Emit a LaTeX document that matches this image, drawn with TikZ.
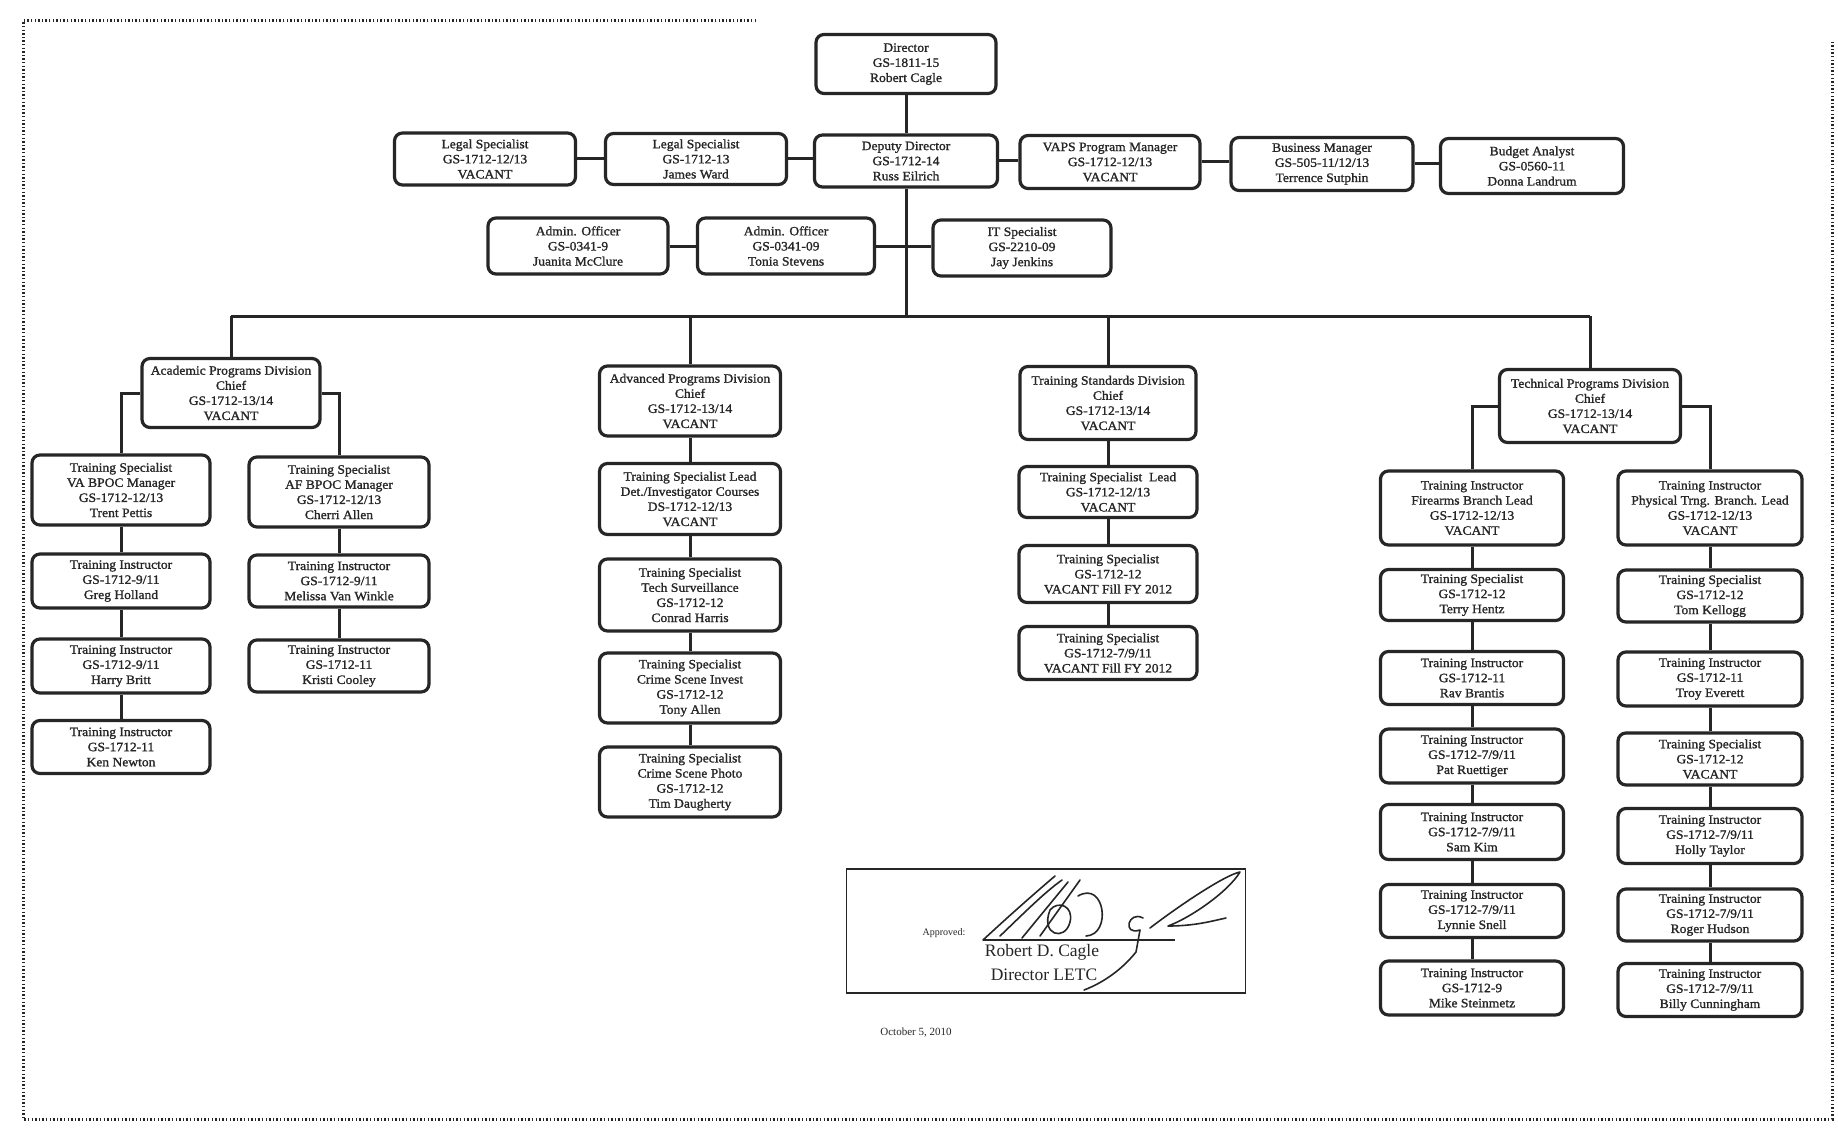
\documentclass[tikz,border=0pt]{standalone}
\usepackage{fontspec}
\setmainfont{Liberation Serif}
\newfontfamily\orgfam{Liberation Serif}[FakeBold=1.3,FakeStretch=1.06]
\newcommand{\orgfont}{\orgfam\fontsize{12.8}{15.1}\selectfont}
\definecolor{ink}{HTML}{262626}
\begin{document}
\begin{tikzpicture}[x=1pt,y=-1pt,
  box/.style={draw=ink, text=ink, line width=3.2pt, rounded corners=8pt, fill=white, align=center, font=\orgfont, inner sep=1pt},
  wA/.style={minimum width=178pt},
  conn/.style={draw=ink, line width=3pt},
  border/.style={draw=ink, line width=3pt, dash pattern=on 1.4pt off 2.2pt},
  sig/.style={draw=ink, line width=1.6pt, line cap=round, line join=round},
  plain/.style={text=ink, inner sep=0pt}]
\useasboundingbox (0,0) rectangle (1838,1134);
\fill[white] (0,0) rectangle (1838,1134);
% border
\draw[border] (756,21) -- (23,21) -- (23,1119) -- (1832,1119) -- (1832,40);

% top level
\node[box, minimum width=180pt, minimum height=59pt] (dir) at (906,64) {Director\\GS-1811-15\\Robert Cagle};
\node[box, minimum width=183pt, minimum height=52pt] (dep) at (906,161) {Deputy Director\\GS-1712-14\\Russ Eilrich};
\node[box, minimum width=181pt, minimum height=52pt] (leg1) at (485,159) {Legal Specialist\\GS-1712-12/13\\VACANT};
\node[box, minimum width=181pt, minimum height=51pt] (leg2) at (696,159) {Legal Specialist\\GS-1712-13\\James Ward};
\node[box, minimum width=180pt, minimum height=53pt] (vaps) at (1110,162) {VAPS Program Manager\\GS-1712-12/13\\VACANT};
\node[box, minimum width=182pt, minimum height=53pt] (busm) at (1322,164) {Business Manager\\GS-505-11/12/13\\Terrence Sutphin};
\node[box, minimum width=183pt, minimum height=55pt] (bud) at (1532,166) {Budget Analyst\\GS-0560-11\\Donna Landrum};
\node[box, minimum width=180pt, minimum height=56pt] (adm1) at (578,246) {Admin. Officer\\GS-0341-9\\Juanita McClure};
\node[box, minimum width=177pt, minimum height=56pt] (adm2) at (786,246) {Admin. Officer\\GS-0341-09\\Tonia Stevens};
\node[box, minimum width=178pt, minimum height=56pt] (it) at (1022,248) {IT Specialist\\GS-2210-09\\Jay Jenkins};

% division chiefs
\node[box, minimum width=178pt, minimum height=69pt] (aca) at (231,393) {Academic Programs Division\\Chief\\GS-1712-13/14\\VACANT};
\node[box, minimum width=181pt, minimum height=70pt] (adv) at (690,401) {Advanced Programs Division\\Chief\\GS-1712-13/14\\VACANT};
\node[box, minimum width=176pt, minimum height=73pt] (std) at (1108,403) {Training Standards Division\\Chief\\GS-1712-13/14\\VACANT};
\node[box, minimum width=181pt, minimum height=73pt] (tec) at (1590,406) {Technical Programs Division\\Chief\\GS-1712-13/14\\VACANT};

% academic
\node[box, wA, minimum height=70pt] (va) at (121,490) {Training Specialist\\VA BPOC Manager\\GS-1712-12/13\\Trent Pettis};
\node[box, wA, minimum height=54pt] (gh) at (121,581) {Training Instructor\\GS-1712-9/11\\Greg Holland};
\node[box, wA, minimum height=54pt] (hb) at (121,666) {Training Instructor\\GS-1712-9/11\\Harry Britt};
\node[box, wA, minimum height=53pt] (kn) at (121,747) {Training Instructor\\GS-1712-11\\Ken Newton};
\node[box, minimum width=180pt, minimum height=70pt] (af) at (339,492) {Training Specialist\\AF BPOC Manager\\GS-1712-12/13\\Cherri Allen};
\node[box, minimum width=180pt, minimum height=52pt] (mv) at (339,581) {Training Instructor\\GS-1712-9/11\\Melissa Van Winkle};
\node[box, minimum width=180pt, minimum height=52pt] (kc) at (339,666) {Training Instructor\\GS-1712-11\\Kristi Cooley};

% advanced
\node[box, minimum width=181pt, minimum height=71pt] (det) at (690,499) {Training Specialist Lead\\Det./Investigator Courses\\DS-1712-12/13\\VACANT};
\node[box, minimum width=181pt, minimum height=72pt] (tsv) at (690,595) {Training Specialist\\Tech Surveillance\\GS-1712-12\\Conrad Harris};
\node[box, minimum width=181pt, minimum height=70pt] (csi) at (690,688) {Training Specialist\\Crime Scene Invest\\GS-1712-12\\Tony Allen};
\node[box, minimum width=181pt, minimum height=70pt] (csp) at (690,782) {Training Specialist\\Crime Scene Photo\\GS-1712-12\\Tim Daugherty};

% standards
\node[box, wA, minimum height=51pt] (stl) at (1108,492) {Training Specialist \ Lead\\GS-1712-12/13\\VACANT};
\node[box, wA, minimum height=57pt] (sts1) at (1108,574) {Training Specialist\\GS-1712-12\\VACANT Fill FY 2012};
\node[box, wA, minimum height=53pt] (sts2) at (1108,653) {Training Specialist\\GS-1712-7/9/11\\VACANT Fill FY 2012};

% technical left
\node[box, minimum width=183pt, minimum height=74pt] (fa) at (1472,508) {Training Instructor\\Firearms Branch Lead\\GS-1712-12/13\\VACANT};
\node[box, minimum width=183pt, minimum height=51pt] (th) at (1472,595) {Training Specialist\\GS-1712-12\\Terry Hentz};
\node[box, minimum width=183pt, minimum height=53pt] (rb) at (1472,678) {Training Instructor\\GS-1712-11\\Rav Brantis};
\node[box, minimum width=183pt, minimum height=54pt] (pr) at (1472,756) {Training Instructor\\GS-1712-7/9/11\\Pat Ruettiger};
\node[box, minimum width=183pt, minimum height=55pt] (sk) at (1472,832) {Training Instructor\\GS-1712-7/9/11\\Sam Kim};
\node[box, minimum width=183pt, minimum height=53pt] (ls) at (1472,911) {Training Instructor\\GS-1712-7/9/11\\Lynnie Snell};
\node[box, minimum width=183pt, minimum height=54pt] (ms) at (1472,988) {Training Instructor\\GS-1712-9\\Mike Steinmetz};
% technical right
\node[box, minimum width=184pt, minimum height=74pt] (pt) at (1710,508) {Training Instructor\\Physical Trng. Branch. Lead\\GS-1712-12/13\\VACANT};
\node[box, minimum width=184pt, minimum height=52pt] (tk) at (1710,596) {Training Specialist\\GS-1712-12\\Tom Kellogg};
\node[box, minimum width=184pt, minimum height=54pt] (te) at (1710,679) {Training Instructor\\GS-1712-11\\Troy Everett};
\node[box, minimum width=184pt, minimum height=52pt] (tsp) at (1710,759) {Training Specialist\\GS-1712-12\\VACANT};
\node[box, minimum width=184pt, minimum height=55pt] (ht) at (1710,836) {Training Instructor\\GS-1712-7/9/11\\Holly Taylor};
\node[box, minimum width=184pt, minimum height=52pt] (rh) at (1710,915) {Training Instructor\\GS-1712-7/9/11\\Roger Hudson};
\node[box, minimum width=184pt, minimum height=53pt] (bc) at (1710,990) {Training Instructor\\GS-1712-7/9/11\\Billy Cunningham};

% connectors top
\draw[conn] (dir.south) -- (dep.north);
\draw[conn] (leg1.east) -- (leg1.east -| leg2.west);
\draw[conn] (leg2.east) -- (leg2.east -| dep.west);
\draw[conn] (dep.east) -- (dep.east -| vaps.west);
\draw[conn] (vaps.east) -- (vaps.east -| busm.west);
\draw[conn] (busm.east) -- (busm.east -| bud.west);
\coordinate (busL) at (231,316);
\coordinate (busR) at (1590,316);
\draw[conn] (dep.south) -- (dep.south |- busL);
\draw[conn] (adm1.east) -- (adm2.west);
\draw[conn] (adm2.east) -- (adm2.east -| it.west);
\draw[conn] (busL) -- (busR);
\draw[conn] (busL) -- (aca.north);
\draw[conn] (adv.north |- busL) -- (adv.north);
\draw[conn] (std.north |- busL) -- (std.north);
\draw[conn] (busR) -- (tec.north);
% academic
\draw[conn] (aca.west) -| (va.north);
\draw[conn] (aca.east) -| (af.north);
\draw[conn] (va.south) -- (gh.north);
\draw[conn] (gh.south) -- (hb.north);
\draw[conn] (hb.south) -- (kn.north);
\draw[conn] (af.south) -- (mv.north);
\draw[conn] (mv.south) -- (kc.north);
% advanced
\draw[conn] (adv.south) -- (det.north);
\draw[conn] (det.south) -- (tsv.north);
\draw[conn] (tsv.south) -- (csi.north);
\draw[conn] (csi.south) -- (csp.north);
% standards
\draw[conn] (std.south) -- (stl.north);
\draw[conn] (stl.south) -- (sts1.north);
\draw[conn] (sts1.south) -- (sts2.north);
% technical
\draw[conn] (tec.west) -| (fa.north);
\draw[conn] (tec.east) -| (pt.north);
\draw[conn] (fa.south) -- (th.north);
\draw[conn] (th.south) -- (rb.north);
\draw[conn] (rb.south) -- (pr.north);
\draw[conn] (pr.south) -- (sk.north);
\draw[conn] (sk.south) -- (ls.north);
\draw[conn] (ls.south) -- (ms.north);
\draw[conn] (pt.south) -- (tk.north);
\draw[conn] (tk.south) -- (te.north);
\draw[conn] (te.south) -- (tsp.north);
\draw[conn] (tsp.south) -- (ht.north);
\draw[conn] (ht.south) -- (rh.north);
\draw[conn] (rh.south) -- (bc.north);

% approval box
\node[draw=ink, line width=1.6pt, minimum width=399pt, minimum height=124pt, inner sep=0pt] (appr) at (1046,931) {};
\node[plain, font=\fontsize{10}{12}\selectfont] (apl) at (944,933) {Approved:};
\coordinate (ulA) at (983,940);
\coordinate (ulB) at (1175,940);
\draw[ink, line width=1.2pt] (ulA) -- (ulB);
\node[plain, font=\fontsize{17.5}{20}\selectfont] (rdc) at (1042,952) {Robert D. Cagle};
\node[plain, font=\fontsize{17.5}{20}\selectfont] (dletc) at (1044,975) {Director LETC};
\node[plain, font=\fontsize{11}{13}\selectfont] (date) at (916,1033) {October 5, 2010};
% signature strokes
\draw[sig] (983,940) .. controls (1010,915) and (1035,893) .. (1055,876);
\draw[sig] (1000,936) .. controls (1025,912) and (1045,892) .. (1062,880);
\draw[sig] (1022,938) -- (1068,882);
\draw[sig] (1040,936) -- (1080,880);
\draw[sig] (1050,910) .. controls (1040,935) and (1065,942) .. (1070,922) .. controls (1074,906) and (1058,900) .. (1050,910);
\draw[sig] (1078,896) .. controls (1105,880) and (1112,935) .. (1086,936);
\draw[sig] (1143,918) .. controls (1128,910) and (1122,936) .. (1140,930) -- (1136,952) .. controls (1120,972) and (1100,984) .. (1084,990);
\draw[sig] (1150,928) .. controls (1180,905) and (1225,875) .. (1240,872) .. controls (1228,892) and (1190,918) .. (1168,926) .. controls (1195,926) and (1212,921) .. (1226,918);
\end{tikzpicture}
\end{document}
